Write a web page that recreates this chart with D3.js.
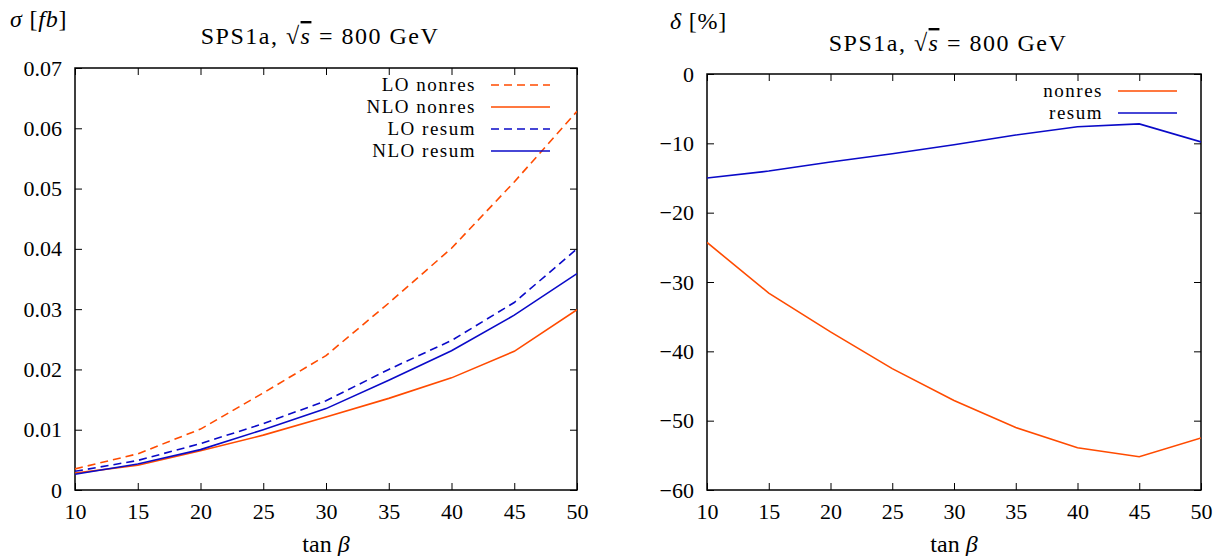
<!DOCTYPE html>
<html>
<head>
<meta charset="utf-8">
<script src="https://cdn.jsdelivr.net/npm/d3@7"></script>
<style>
  body { margin: 0; background: #fff; }
  svg text { font-family: "Liberation Serif", "DejaVu Serif", serif !important; fill: #000; }
</style>
</head>
<body>
<div id="chart"></div>
<script>
// tan(beta) grid shared by both panels
const tanBeta = [10, 15, 20, 25, 30, 35, 40, 45, 50];

// left panel: cross sections in fb
const loNonres  = [0.0035, 0.0060, 0.0101, 0.0161, 0.0223, 0.0310, 0.0401, 0.0511, 0.0628];
const nloNonres = [0.0028, 0.0041, 0.0065, 0.0091, 0.0121, 0.0152, 0.0186, 0.0230, 0.0299];
const loResum   = [0.0031, 0.0049, 0.0077, 0.0110, 0.0148, 0.0200, 0.0248, 0.0311, 0.0400];
const nloResum  = [0.0026, 0.0043, 0.0067, 0.0100, 0.0135, 0.0182, 0.0231, 0.0290, 0.0359];

// right panel: relative corrections in percent
const deltaNonres = [-24.3, -31.6, -37.2, -42.5, -47.1, -51.0, -53.9, -55.2, -52.5];
const deltaResum  = [-15.0, -14.0, -12.7, -11.5, -10.2, -8.8, -7.6, -7.2, -9.8];

const leftTicks  = [0, 0.01, 0.02, 0.03, 0.04, 0.05, 0.06, 0.07];
const rightTicks = [0, -10, -20, -30, -40, -50, -60];

const ORANGE = '#ff4b00';
const BLUE = '#0a0ac8';

const svg = d3.select('#chart').append('svg')
  .attr('width', 1224)
  .attr('height', 556);

function drawPanel(p) {
  const x = d3.scaleLinear().domain([10, 50]).range([p.left, p.right]);
  const y = d3.scaleLinear().domain(p.yDomain).range([p.bottom, p.top]);
  const g = svg.append('g');
  const tick = 7;

  // bottom axis with labels, ticks pointing inwards
  g.append('g')
    .attr('transform', `translate(0,${p.bottom})`)
    .call(d3.axisBottom(x).tickValues(tanBeta).tickSizeInner(-tick).tickSizeOuter(0).tickPadding(13))
    .call(a => a.select('.domain').remove())
    .call(a => a.selectAll('text').attr('font-size', 22).attr('dy', '0.72em'));

  // mirrored top ticks
  g.append('g')
    .attr('transform', `translate(0,${p.top})`)
    .call(d3.axisTop(x).tickValues(tanBeta).tickSizeInner(-tick).tickSizeOuter(0).tickFormat(''))
    .call(a => a.select('.domain').remove());

  g.append('g')
    .attr('transform', `translate(${p.left},0)`)
    .call(d3.axisLeft(y).tickValues(p.yTicks).tickSizeInner(-tick).tickSizeOuter(0).tickPadding(13).tickFormat(p.fmt))
    .call(a => a.select('.domain').remove())
    .call(a => a.selectAll('text').attr('font-size', 22));

  g.append('g')
    .attr('transform', `translate(${p.right},0)`)
    .call(d3.axisRight(y).tickValues(p.yTicks).tickSizeInner(-tick).tickSizeOuter(0).tickFormat(''))
    .call(a => a.select('.domain').remove());

  g.selectAll('.tick line').attr('stroke', '#000').attr('stroke-width', 1);

  // frame
  g.append('rect')
    .attr('x', p.left).attr('y', p.top)
    .attr('width', p.right - p.left).attr('height', p.bottom - p.top)
    .attr('fill', 'none').attr('stroke', '#000').attr('stroke-width', 1.5);

  // curves
  const line = d3.line().x((d, i) => x(tanBeta[i])).y(d => y(d));
  const clip = 'clip' + p.id;
  g.append('clipPath').attr('id', clip)
    .append('rect')
    .attr('x', p.left).attr('y', p.top)
    .attr('width', p.right - p.left).attr('height', p.bottom - p.top);

  p.series.forEach(s => {
    g.append('path')
      .datum(s.values)
      .attr('clip-path', `url(#${clip})`)
      .attr('d', line)
      .attr('fill', 'none')
      .attr('stroke', s.color)
      .attr('stroke-width', 1.6)
      .attr('stroke-dasharray', s.dash ? '8,5' : null);
  });

  // legend
  p.series.forEach((s, i) => {
    const ly = p.legendY + i * p.legendStep;
    g.append('text')
      .attr('x', p.legendX).attr('y', ly)
      .attr('dy', '0.33em')
      .attr('text-anchor', 'end')
      .attr('font-size', 19)
      .attr('letter-spacing', 1.5)
      .text(s.name);
    g.append('line')
      .attr('x1', p.legendX + 15).attr('x2', p.legendX + 74)
      .attr('y1', ly).attr('y2', ly)
      .attr('stroke', s.color)
      .attr('stroke-width', 1.6)
      .attr('stroke-dasharray', s.dash ? '8,5' : null);
  });

  // title: SPS1a, sqrt(s) = 800 GeV
  const title = g.append('text')
    .attr('x', (p.left + p.right) / 2 - 6)
    .attr('y', p.titleY)
    .attr('text-anchor', 'middle')
    .attr('font-size', 24)
    .attr('letter-spacing', 1.5);
  title.append('tspan').text('SPS1a, √');
  title.append('tspan').attr('font-style', 'italic')
    .style('text-decoration', 'overline').text('s');
  title.append('tspan').text(' = 800 GeV');

  // y-axis label in the top-left corner
  const yl = g.append('text')
    .attr('x', p.yLabelX).attr('y', p.yLabelY)
    .attr('font-size', 24)
    .attr('letter-spacing', 0.8);
  yl.append('tspan').attr('font-style', 'italic').text(p.yLabel[0]);
  yl.append('tspan').text(' [');
  yl.append('tspan').attr('font-style', p.yLabel[2] ? 'italic' : null).text(p.yLabel[1]);
  yl.append('tspan').text(']');

  // x-axis label tan beta
  const xl = g.append('text')
    .attr('x', (p.left + p.right) / 2)
    .attr('y', 552)
    .attr('text-anchor', 'middle')
    .attr('font-size', 24);
  xl.append('tspan').text('tan ');
  xl.append('tspan').attr('font-style', 'italic').text('β');
}

drawPanel({
  id: 'L',
  left: 75, right: 577, top: 68, bottom: 490,
  yDomain: [0, 0.07], yTicks: leftTicks,
  fmt: d => d === 0 ? '0' : d3.format('.2f')(d),
  series: [
    { name: 'LO nonres', values: loNonres, color: ORANGE, dash: true },
    { name: 'NLO nonres', values: nloNonres, color: ORANGE, dash: false },
    { name: 'LO resum', values: loResum, color: BLUE, dash: true },
    { name: 'NLO resum', values: nloResum, color: BLUE, dash: false }
  ],
  legendX: 476, legendY: 85, legendStep: 22,
  titleY: 44,
  yLabel: ['σ', 'fb', true], yLabelX: 10, yLabelY: 27
});

drawPanel({
  id: 'R',
  left: 707, right: 1201, top: 74, bottom: 490,
  yDomain: [-60, 0], yTicks: rightTicks,
  fmt: d => d === 0 ? '0' : '−' + Math.abs(d),
  series: [
    { name: 'nonres', values: deltaNonres, color: ORANGE, dash: false },
    { name: 'resum', values: deltaResum, color: BLUE, dash: false }
  ],
  legendX: 1103, legendY: 91, legendStep: 22,
  titleY: 51,
  yLabel: ['δ', '%', false], yLabelX: 670, yLabelY: 29
});
</script>
</body>
</html>
